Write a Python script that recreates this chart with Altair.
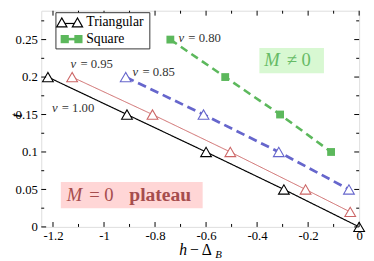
import altair as alt
import pandas as pd

# ---- data ----
h_v100 = [-1.22, -0.91, -0.60, -0.295, 0.0]
t_v100 = [0.20, 0.15, 0.10, 0.05, 0.0]
h_v095 = [-1.125, -0.81, -0.505, -0.21, -0.035]
t_v095 = [0.20, 0.15, 0.10, 0.05, 0.02]
h_v085 = [-0.915, -0.61, -0.315, -0.04]
t_v085 = [0.20, 0.15, 0.10, 0.05]
h_v080 = [-0.74, -0.525, -0.31, -0.11]
t_v080 = [0.25, 0.20, 0.15, 0.10]

series_names = ["v=1.00", "v=0.95", "v=0.85", "v=0.80"]
series_colors = ["#000000", "#cc6666", "#6666cc", "#5cb85c"]
series_dash = [[1, 0], [1, 0], [9, 5], [8, 5]]
series_width = [1.2, 1.0, 2.8, 2.6]

label_text = ["= 1.00", "= 0.95", "= 0.85", "= 0.80"]
label_h = [-1.204, -1.131, -0.888, -0.708]
label_t = [0.159, 0.217, 0.206, 0.252]

legend_labels = ["Triangular", "Square"]

x_major = [-1.2, -1.0, -0.8, -0.6, -0.4, -0.2, 0.0]
x_minor = [-1.1, -0.9, -0.7, -0.5, -0.3, -0.1]
y_major = [0.0, 0.05, 0.10, 0.15, 0.20, 0.25]
y_minor = [0.025, 0.075, 0.125, 0.175, 0.225, 0.275]

W, H = 325, 221
FONT = "Liberation Serif"

all_h = [h_v100, h_v095, h_v085, h_v080]
all_t = [t_v100, t_v095, t_v085, t_v080]

xs = alt.Scale(domain=[-1.246, 0.0], nice=False, zero=False)
ys = alt.Scale(domain=[0.0, 0.2885], nice=False, zero=False)


def X(field="h"):
    return alt.X(f"{field}:Q", scale=xs, title=None,
                 axis=alt.Axis(values=x_major, labelExpr="toString(datum.value)",
                               ticks=False, domain=False, grid=False,
                               labelFont=FONT, labelFontSize=13, labelColor="black",
                               labelPadding=3, labelFlush=False))


def Y(field="t"):
    return alt.Y(f"{field}:Q", scale=ys, title=None,
                 axis=alt.Axis(values=y_major, labelExpr="toString(datum.value)",
                               ticks=False, domain=False, grid=False,
                               labelFont=FONT, labelFontSize=13, labelColor="black",
                               labelPadding=4))


line_layers = []
pt_layers = []
for name, hs, ts, col, dash, wd in zip(series_names, all_h, all_t, series_colors,
                                       series_dash, series_width):
    d = pd.DataFrame({"h": hs, "t": ts, "order": list(range(len(hs)))})
    line_layers.append(alt.Chart(d).mark_line(color=col, strokeDash=dash, strokeWidth=wd).encode(
        x=X(), y=Y(), order="order:Q"))
    if name == "v=0.80":
        pt_layers.append(alt.Chart(d).mark_point(shape="square", size=64, filled=True,
                                                 color=col, opacity=1).encode(x=X(), y=Y()))
    else:
        pt_layers.append(alt.Chart(d).mark_point(shape="triangle-up", size=121, filled=True,
                                                 fill="white", stroke=col, strokeWidth=1.1,
                                                 opacity=1).encode(x=X(), y=Y()))

lab_df = pd.DataFrame({"h": label_h, "t": label_t, "txt": label_text})
lab_v = alt.Chart(lab_df).mark_text(text="v", font=FONT, fontSize=13, fontStyle="italic",
                                     align="left", baseline="middle", color="#333").encode(x=X(), y=Y())
lab_r = alt.Chart(lab_df).mark_text(font=FONT, fontSize=13, align="left", baseline="middle",
                                     dx=10, color="#333").encode(x=X(), y=Y(), text="txt:N")

# inward ticks on all four sides
tick_layers = []
for vals, ln in [(x_major, 5), (x_minor, 3)]:
    d = pd.DataFrame({"h": vals})
    tick_layers.append(alt.Chart(d).mark_rule(color="black", strokeWidth=1).encode(
        x=X(), y=alt.value(H), y2=alt.value(H - ln)))
    tick_layers.append(alt.Chart(d).mark_rule(color="black", strokeWidth=1).encode(
        x=X(), y=alt.value(0), y2=alt.value(ln)))
for vals, ln in [(y_major, 5), (y_minor, 3)]:
    d = pd.DataFrame({"t": vals})
    tick_layers.append(alt.Chart(d).mark_rule(color="black", strokeWidth=1).encode(
        y=Y(), x=alt.value(0), x2=alt.value(ln)))
    tick_layers.append(alt.Chart(d).mark_rule(color="black", strokeWidth=1).encode(
        y=Y(), x=alt.value(W), x2=alt.value(W - ln)))

one = pd.DataFrame({"a": [0]})
base = alt.Chart(one)

# legend box (drawn as a key, top-left inside the plot)
legend_layers = [
    base.mark_rect(fill="white", stroke="#333", strokeWidth=1).encode(
        x=alt.value(15), x2=alt.value(111), y=alt.value(2), y2=alt.value(39)),
    base.mark_rule(color="black", strokeWidth=1.2).encode(
        x=alt.value(21), x2=alt.value(37), y=alt.value(13)),
    base.mark_point(shape="triangle-up", size=110, filled=True, fill="white", stroke="black",
                    strokeWidth=1.2, opacity=1).encode(x=alt.value(21), y=alt.value(12)),
    base.mark_point(shape="triangle-up", size=110, filled=True, fill="white", stroke="black",
                    strokeWidth=1.2, opacity=1).encode(x=alt.value(37), y=alt.value(12)),
    base.mark_rule(color="#5cb85c", strokeWidth=2.6).encode(
        x=alt.value(24), x2=alt.value(38), y=alt.value(29)),
    base.mark_point(shape="square", size=70, filled=True, color="#5cb85c",
                    opacity=1).encode(x=alt.value(24), y=alt.value(29)),
    base.mark_point(shape="square", size=70, filled=True, color="#5cb85c",
                    opacity=1).encode(x=alt.value(38), y=alt.value(29)),
    base.mark_text(text=legend_labels[0], font=FONT, fontSize=14, align="left",
                   baseline="middle", color="black").encode(x=alt.value(46), y=alt.value(12)),
    base.mark_text(text=legend_labels[1], font=FONT, fontSize=14, align="left",
                   baseline="middle", color="black").encode(x=alt.value(46), y=alt.value(29)),
]

pink_box = base.mark_rect(color="#ffd6d6").encode(
    x=alt.value(20), x2=alt.value(165), y=alt.value(175), y2=alt.value(202))
green_box = base.mark_rect(color="#d8f8d2").encode(
    x=alt.value(223), x2=alt.value(289), y=alt.value(38), y2=alt.value(64))

pink_col = "#a64d4d"
green_col = "#66bb66"
texts = [
    base.mark_text(text="M", font=FONT, fontSize=19, fontStyle="italic", align="left",
                   baseline="alphabetic", color=pink_col).encode(x=alt.value(26), y=alt.value(194)),
    base.mark_text(text="= 0", font=FONT, fontSize=19, align="left",
                   baseline="alphabetic", color=pink_col).encode(x=alt.value(49), y=alt.value(194)),
    base.mark_text(text="plateau", font=FONT, fontSize=20, fontWeight="bold", align="left",
                   baseline="alphabetic", color=pink_col).encode(x=alt.value(90), y=alt.value(194)),
    base.mark_text(text="M", font=FONT, fontSize=19, fontStyle="italic", align="left",
                   baseline="alphabetic", color=green_col).encode(x=alt.value(228), y=alt.value(56)),
    base.mark_text(text="≠ 0", font=FONT, fontSize=19, align="left",
                   baseline="alphabetic", color=green_col).encode(x=alt.value(251), y=alt.value(56)),
    # axis titles
    base.mark_text(text="h", font=FONT, fontSize=16, fontStyle="italic", align="left",
                   baseline="alphabetic", color="black").encode(x=alt.value(141), y=alt.value(250)),
    base.mark_text(text="− Δ", font=FONT, fontSize=16, align="left",
                   baseline="alphabetic", color="black").encode(x=alt.value(152), y=alt.value(250)),
    base.mark_text(text="B", font=FONT, fontSize=11, fontStyle="italic", align="left",
                   baseline="alphabetic", color="black").encode(x=alt.value(178), y=alt.value(253)),
    base.mark_text(text="t", font=FONT, fontSize=16, fontStyle="italic", align="center",
                   baseline="middle", angle=270, color="black").encode(x=alt.value(-25), y=alt.value(107)),
]

chart = alt.layer(
    pink_box, green_box, *line_layers, *pt_layers, lab_v, lab_r, *tick_layers,
    *legend_layers, *texts
).properties(
    width=W, height=H,
    autosize=alt.AutoSizeParams(type="none"),
    padding={"left": 34, "top": 0, "right": 7, "bottom": 30},
).configure_view(
    stroke="black", strokeWidth=1
).configure(background="white")

chart.save("out.html", embed_options={"renderer": "svg", "actions": False})
